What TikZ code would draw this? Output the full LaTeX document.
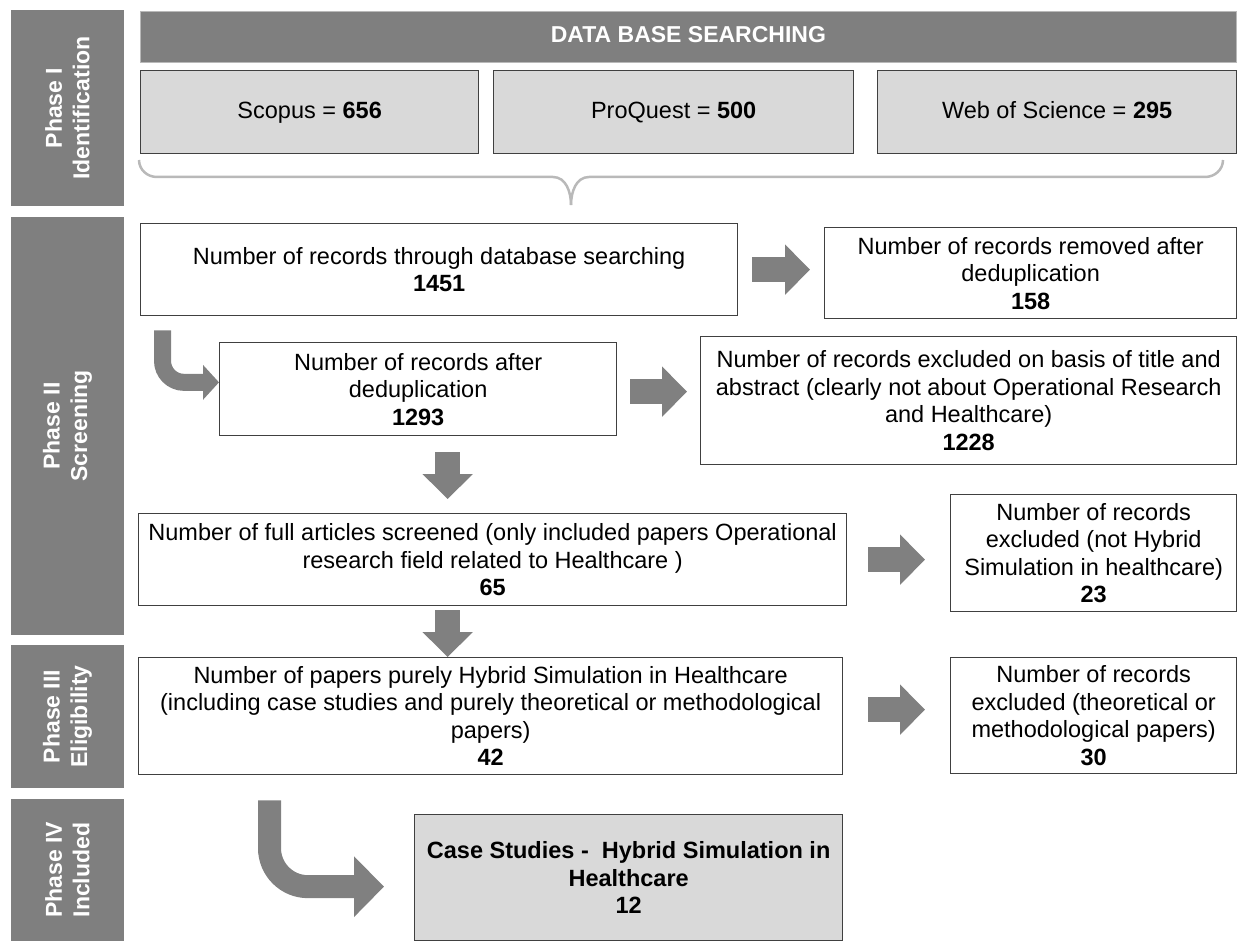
\documentclass[tikz,border=0pt]{standalone}
\usepackage{fontspec}
\setmainfont{Liberation Sans}
\usetikzlibrary{arrows.meta}
\definecolor{sidegray}{RGB}{127,127,127}
\definecolor{arrgray}{RGB}{128,128,128}
\definecolor{lightfill}{RGB}{217,217,217}
\definecolor{bordergray}{RGB}{64,64,64}
\definecolor{bracegray}{RGB}{185,185,185}
\newcommand{\bodyfont}{\fontsize{23.5}{27.5}\selectfont}
\newcommand{\sidefont}{\fontsize{23}{27.5}\selectfont\bfseries}
\tikzset{
  box/.style={draw=bordergray, line width=1.3pt, fill=white, inner sep=0pt,
    align=center, font=\bodyfont, anchor=north west},
  greybox/.style={box, fill=lightfill},
  oneline/.style={text height=17pt, text depth=5pt},
  phasebar/.style={fill=sidegray, draw=none, inner sep=0pt, rotate=90,
    align=center, text=white, font=\sidefont},
  blk/.style={draw=arrgray, line width=25pt, -{Triangle[width=49pt,length=25pt]}},
  bracepath/.style={draw=bracegray, line width=2.5pt},
}
\begin{document}
\begin{tikzpicture}[x=1pt,y=-1pt]
\useasboundingbox (0,0) rectangle (1238,941);

% phase sidebars
\node[phasebar, minimum width=196pt, minimum height=113pt] (p1) at (67.5,108) {Phase I\\Identification};
\node[phasebar, minimum width=418pt, minimum height=113pt] (p2) at (67.5,426) {Phase II\\Screening};
\node[phasebar, minimum width=143pt, minimum height=113pt] (p3) at (67.5,716.5) {Phase III\\Eligibility};
\node[phasebar, minimum width=142pt, minimum height=113pt] (p4) at (67.5,870) {Phase IV\\Included};

% database searching
\node[box, oneline, fill=sidegray, draw=bracegray, line width=0.8pt, text=white, font=\sidefont,
  minimum width=1096pt, minimum height=51pt] (db) at (140,11) {DATA BASE SEARCHING};
\node[greybox, oneline, minimum width=338pt, minimum height=83pt] (s1) at (140,70) {Scopus = \textbf{656}};
\node[greybox, oneline, minimum width=360pt, minimum height=83pt] (s2) at (493,70) {ProQuest = \textbf{500}};
\node[greybox, oneline, minimum width=359pt, minimum height=83pt] (s3) at (877,70) {Web of Science = \textbf{295}};

% brace
\draw[bracepath] (139,160) to[out=-90,in=180] (157,177) -- (553,177) to[out=0,in=90] (571,205);
\draw[bracepath] (571,205) to[out=90,in=180] (589,177) -- (1205,177) to[out=0,in=-90] (1223,160);

% screening boxes
\node[box, minimum width=597pt, minimum height=92pt] (a) at (140,223)
  {Number of records through database searching\\\textbf{1451}};
\node[box, minimum width=412pt, minimum height=91pt] (r1) at (824,227)
  {Number of records removed after\\deduplication\\\textbf{158}};
\node[box, minimum width=397pt, minimum height=93pt] (b) at (219,342)
  {Number of records after\\deduplication\\\textbf{1293}};
\node[box, minimum width=536pt, minimum height=128pt] (c) at (700,336)
  {Number of records excluded on basis of title and\\abstract (clearly not about Operational Research\\and Healthcare)\\\textbf{1228}};
\node[box, minimum width=708pt, minimum height=92pt] (d) at (138,513)
  {Number of full articles screened (only included papers Operational\\research field related to Healthcare )\\\textbf{65}};
\node[box, minimum width=286pt, minimum height=117pt] (e) at (950,494)
  {Number of records\\excluded (not Hybrid\\Simulation in healthcare)\\\textbf{23}};

% eligibility
\node[box, minimum width=704pt, minimum height=117pt] (f) at (138,657)
  {Number of papers purely Hybrid Simulation in Healthcare\\(including case studies and purely theoretical or methodological\\papers)\\\textbf{42}};
\node[box, minimum width=286pt, minimum height=116pt] (g) at (950,657)
  {Number of records\\excluded (theoretical or\\methodological papers)\\\textbf{30}};

% included
\node[greybox, font=\bodyfont\bfseries, minimum width=428pt, minimum height=126pt] (h) at (414,814)
  {Case Studies -\ \ Hybrid Simulation in\\Healthcare\\12};

% straight block arrows
\draw[blk, shorten <=14pt, shorten >=14pt] (a.east) -- (a.east -| r1.west);
\draw[blk, shorten <=13pt, shorten >=13pt] ([yshift=-2.5pt]b.east) -- ([yshift=-2.5pt]b.east -| c.west);
\draw[blk, shorten <=21pt, shorten >=25pt] (d.east) -- (d.east -| e.west);
\draw[blk, shorten <=25pt, shorten >=25pt] ([yshift=6.5pt]f.east) -- ([yshift=6.5pt]f.east -| g.west);
\draw[blk, shorten <=16pt, shorten >=14pt] ([xshift=29.5pt]b.south) -- ([xshift=29.5pt]b.south |- d.north);
\draw[blk, shorten <=4pt] ([xshift=-45pt]d.south) -- ([xshift=-45pt]d.south |- f.north);

% bent block arrows
\draw[draw=arrgray, line width=17pt, rounded corners=21.5pt, -{Triangle[width=34pt,length=16pt]}]
  ([xshift=22.5pt,yshift=-14pt]a.south west) |- ([yshift=6.8pt]b.west);
\draw[draw=arrgray, line width=23pt, rounded corners=38.5pt, -{Triangle[width=59pt,length=30pt]}, shorten >=30pt]
  ([xshift=131.5pt,yshift=-25pt]f.south west) |- ([yshift=-9pt]h.west);
\end{tikzpicture}
\end{document}
